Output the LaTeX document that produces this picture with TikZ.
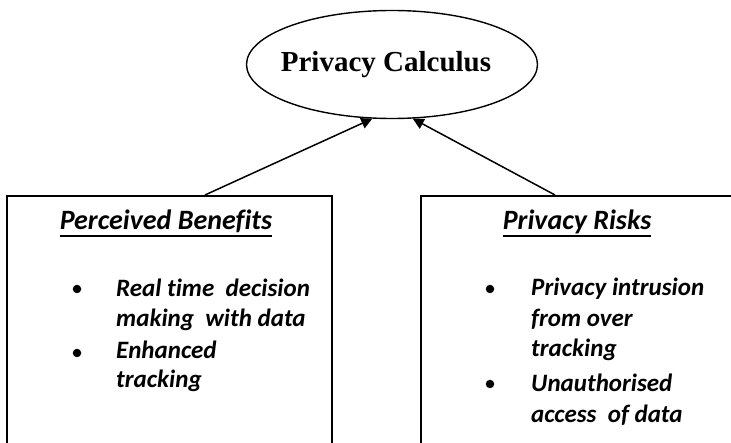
\documentclass[tikz,border=0pt]{standalone}
\usepackage{fontspec}
\setmainfont{Liberation Serif}
\newfontfamily\calfont[Ligatures=NoCommon]{Carlito}
\usetikzlibrary{shapes.geometric,arrows.meta,calc}
\begin{document}
\begin{tikzpicture}[x=1pt,y=-1pt,
  frame/.style={draw=black,line width=1.6pt,inner sep=0pt,anchor=north west},
  link/.style={line width=1.5pt,-{Triangle[length=11pt,width=11pt]}},
  head/.style={font=\calfont\bfseries\itshape\fontsize{28}{30}\selectfont,inner sep=0pt,anchor=base},
  item/.style={font=\calfont\bfseries\itshape\fontsize{25}{30}\selectfont,inner sep=0pt,anchor=base west},
  dot/.style={circle,fill=black,inner sep=0pt,minimum size=8.5pt},
  uline/.style={line width=1.8pt}]
\clip (0,0) rectangle (731,443);
\fill[white] (0,0) rectangle (731,443);

% central construct
\node[ellipse,draw,line width=1.4pt,minimum width=291pt,minimum height=108pt,
      inner xsep=-40pt,inner ysep=-15pt,
      font=\bfseries\fontsize{29}{30}\selectfont] (pc) at (392,64.5)
      {\raisebox{6pt}{Privacy Calculus\hspace{12pt}}};

% the two input boxes (they run past the lower and right edges)
\node[frame,minimum width=325pt,minimum height=300pt] (pb) at (6,195) {};
\node[frame,minimum width=340pt,minimum height=300pt] (pr) at (420,195) {};

% connectors
\coordinate (pbout) at ($(pb.north west)+(199,0)$);
\coordinate (prout) at ($(pr.north west)+(135,0)$);
\draw[link] (pbout) -- (pc.250);
\draw[link] (prout) -- (pc.291);

% left box
\node[head] (pbh) at (166,230) {Perceived Benefits};
\draw[uline] ($(pbh.base west)+(0,6)$) -- ($(pbh.base east)+(0,6)$);
\node[dot] (pbd1) at (77,289) {};
\node[item] (pb1a) at (116,297) {Real time\ \ decision};
\node[item] (pb1b) at (116,327) {making\ \ with data};
\node[dot] (pbd2) at (77,353) {};
\node[item] (pb2a) at (116,359) {Enhanced};
\node[item] (pb2b) at (116,388) {tracking};

% right box
\node[head] (prh) at (577,230) {Privacy Risks};
\draw[uline] ($(prh.base west)+(0,6)$) -- ($(prh.base east)+(0,6)$);
\node[dot] (prd1) at (490,289) {};
\node[item] (pr1a) at (531,296) {Privacy intrusion};
\node[item] (pr1b) at (531,327) {from over};
\node[item] (pr1c) at (531,357) {tracking};
\node[dot] (prd2) at (490,384) {};
\node[item] (pr2a) at (531,392) {Unauthorised};
\node[item] (pr2b) at (531,422) {access\ \ of data};
\end{tikzpicture}
\end{document}
